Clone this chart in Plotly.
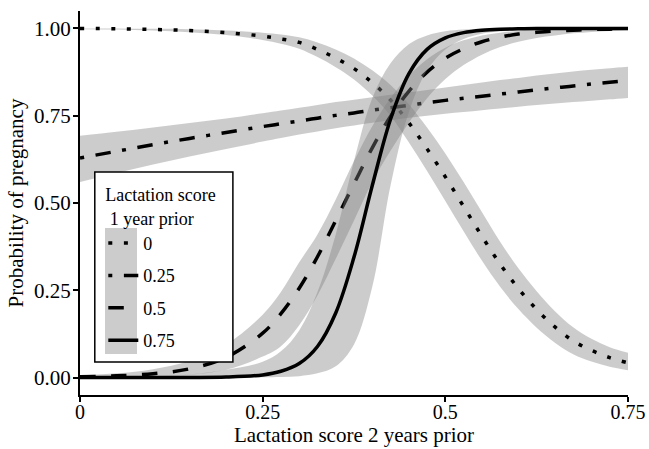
import plotly.graph_objects as go

# Lactation score 2 years prior (x) grid
x_vals = [0, 0.05, 0.1, 0.15, 0.2, 0.25, 0.275, 0.3, 0.325, 0.35, 0.375, 0.4, 0.425,
          0.45, 0.475, 0.5, 0.525, 0.55, 0.575, 0.6, 0.625, 0.65, 0.675, 0.7, 0.725, 0.75]

groups = ["0", "0.25", "0.5", "0.75"]

# Score 1 year prior = 0
fit_0 = [1.000, 0.999, 0.997, 0.994, 0.988, 0.978, 0.970, 0.960, 0.940, 0.915, 0.885, 0.845, 0.795,
         0.730, 0.655, 0.575, 0.490, 0.405, 0.325, 0.255, 0.195, 0.145, 0.105, 0.078, 0.057, 0.042]
lo_0 = [0.998, 0.997, 0.994, 0.989, 0.981, 0.967, 0.956, 0.942, 0.918, 0.889, 0.854, 0.808, 0.750,
        0.674, 0.592, 0.506, 0.419, 0.335, 0.260, 0.196, 0.143, 0.100, 0.067, 0.046, 0.031, 0.021]
hi_0 = [1.000, 1.000, 0.999, 0.998, 0.994, 0.988, 0.983, 0.975, 0.960, 0.940, 0.914, 0.880, 0.838,
        0.783, 0.716, 0.642, 0.560, 0.474, 0.389, 0.313, 0.247, 0.190, 0.144, 0.111, 0.087, 0.071]

# Score 1 year prior = 0.25
fit_25 = [0.629, 0.648, 0.667, 0.685, 0.702, 0.719, 0.727, 0.735, 0.743, 0.751, 0.758, 0.766, 0.773,
          0.780, 0.787, 0.794, 0.800, 0.806, 0.812, 0.818, 0.824, 0.830, 0.835, 0.841, 0.846, 0.851]
lo_25 = [0.560, 0.586, 0.610, 0.633, 0.655, 0.676, 0.686, 0.696, 0.705, 0.714, 0.722, 0.730, 0.737,
         0.744, 0.750, 0.756, 0.761, 0.766, 0.771, 0.776, 0.781, 0.785, 0.789, 0.793, 0.797, 0.801]
hi_25 = [0.693, 0.704, 0.716, 0.729, 0.742, 0.757, 0.765, 0.773, 0.781, 0.789, 0.796, 0.803, 0.810,
         0.817, 0.824, 0.831, 0.838, 0.845, 0.852, 0.858, 0.865, 0.871, 0.877, 0.882, 0.886, 0.890]

# Score 1 year prior = 0.5
fit_50 = [0.002, 0.005, 0.011, 0.025, 0.058, 0.127, 0.183, 0.256, 0.346, 0.450, 0.555, 0.658, 0.748,
          0.820, 0.875, 0.915, 0.942, 0.962, 0.975, 0.984, 0.989, 0.993, 0.995, 0.997, 0.998, 0.999]
lo_50 = [0.0005, 0.0015, 0.004, 0.008, 0.022, 0.060, 0.090, 0.150, 0.235, 0.340, 0.450, 0.560, 0.650,
         0.730, 0.800, 0.855, 0.895, 0.925, 0.947, 0.962, 0.973, 0.980, 0.986, 0.990, 0.993, 0.995]
hi_50 = [0.006, 0.012, 0.024, 0.048, 0.095, 0.180, 0.245, 0.330, 0.410, 0.510, 0.620, 0.720, 0.800,
         0.865, 0.912, 0.945, 0.966, 0.980, 0.988, 0.993, 0.996, 0.997, 0.998, 0.999, 0.999, 1.000]

# Score 1 year prior = 0.75
fit_75 = [0.0, 0.0, 0.0001, 0.0003, 0.0014, 0.0075, 0.018, 0.040, 0.089, 0.185, 0.345, 0.550, 0.740,
          0.870, 0.940, 0.973, 0.988, 0.995, 0.998, 0.999, 1.0, 1.0, 1.0, 1.0, 1.0, 1.0]
lo_75 = [0.0, 0.0, 0.0, 0.0, 0.0001, 0.0006, 0.0015, 0.004, 0.012, 0.032, 0.095, 0.260, 0.550,
         0.760, 0.880, 0.940, 0.970, 0.985, 0.992, 0.996, 0.998, 0.999, 1.0, 1.0, 1.0, 1.0]
hi_75 = [0.001, 0.002, 0.004, 0.009, 0.022, 0.045, 0.075, 0.135, 0.245, 0.410, 0.620, 0.800, 0.900,
         0.955, 0.980, 0.992, 0.997, 0.999, 1.0, 1.0, 1.0, 1.0, 1.0, 1.0, 1.0, 1.0]

x_ticks = [0, 0.25, 0.5, 0.75]
x_tick_text = ["0", "0.25", "0.5", "0.75"]
y_ticks = [0, 0.25, 0.5, 0.75, 1.0]
y_tick_text = ["0.00", "0.25", "0.50", "0.75", "1.00"]

fits = [fit_0, fit_25, fit_50, fit_75]
los = [lo_0, lo_25, lo_50, lo_75]
his = [hi_0, hi_25, hi_50, hi_75]
dashes = ["4px,11.6px", "4px,11.6px,15.5px,11.6px", "15.5px,15.5px", "solid"]

RIBBON = "rgba(127,127,127,0.4)"
FONT = "Liberation Serif"

fig = go.Figure()
for g, f, lo, hi, d in zip(groups, fits, los, his, dashes):
    fig.add_trace(go.Scatter(x=x_vals, y=lo, mode="lines", line=dict(width=0, shape="spline"),
                             showlegend=False, legendgroup=g, hoverinfo="skip"))
    fig.add_trace(go.Scatter(x=x_vals, y=hi, mode="lines", line=dict(width=0, shape="spline"),
                             fill="tonexty", fillcolor=RIBBON, showlegend=False,
                             legendgroup=g, hoverinfo="skip"))
    fig.add_trace(go.Scatter(x=x_vals, y=f, mode="lines", name=g, legendgroup=g,
                             line=dict(color="black", width=3.5, dash=d, shape="spline")))

axis_common = dict(showline=True, linecolor="black", linewidth=2, ticks="outside", ticklen=5,
                   tickwidth=2, tickcolor="black", showgrid=False, zeroline=False, automargin=False)

fig.update_layout(
    width=649, height=449,
    margin=dict(l=80, r=21, t=11, b=54),
    plot_bgcolor="white", paper_bgcolor="white",
    font=dict(family=FONT, size=21, color="black"),
    xaxis=dict(range=[0, 0.75], tickvals=x_ticks, ticktext=x_tick_text, ticklabelstandoff=-7,
               tickfont=dict(family=FONT, size=20, color="black"),
               title=dict(text="Lactation score 2 years prior", font=dict(family=FONT, size=21), standoff=0),
               **axis_common),
    yaxis=dict(range=[-0.05, 1.05], tickvals=y_ticks, ticktext=y_tick_text, ticklabelstandoff=-2,
               tickfont=dict(family=FONT, size=21, color="black"),
               title=dict(text="Probability of pregnancy", font=dict(family=FONT, size=21), standoff=5),
               **axis_common),
    legend=dict(x=0.0425, y=0.565, xanchor="left", yanchor="top",
                bgcolor="rgba(0,0,0,0)", borderwidth=0,
                font=dict(family=FONT, size=18, color="black"),
                title=dict(text="Lactation score<br>\u00a01 year prior", font=dict(family=FONT, size=18)),
                traceorder="grouped", tracegroupgap=6, itemwidth=30),
    shapes=[
        dict(type="rect", xref="paper", yref="paper", x0=0.027, x1=0.279, y0=0.086, y1=0.581,
             fillcolor="white", line=dict(color="black", width=1.5), layer="above"),
        dict(type="rect", xref="paper", yref="paper", x0=0.0456, x1=0.104, y0=0.107, y1=0.435,
             fillcolor="#cccccc", line=dict(width=0), layer="above"),
    ],
)

fig.write_html("out.html", config={"displayModeBar": False},
               post_script="document.body.style.margin='0';document.body.style.overflow='hidden';")
